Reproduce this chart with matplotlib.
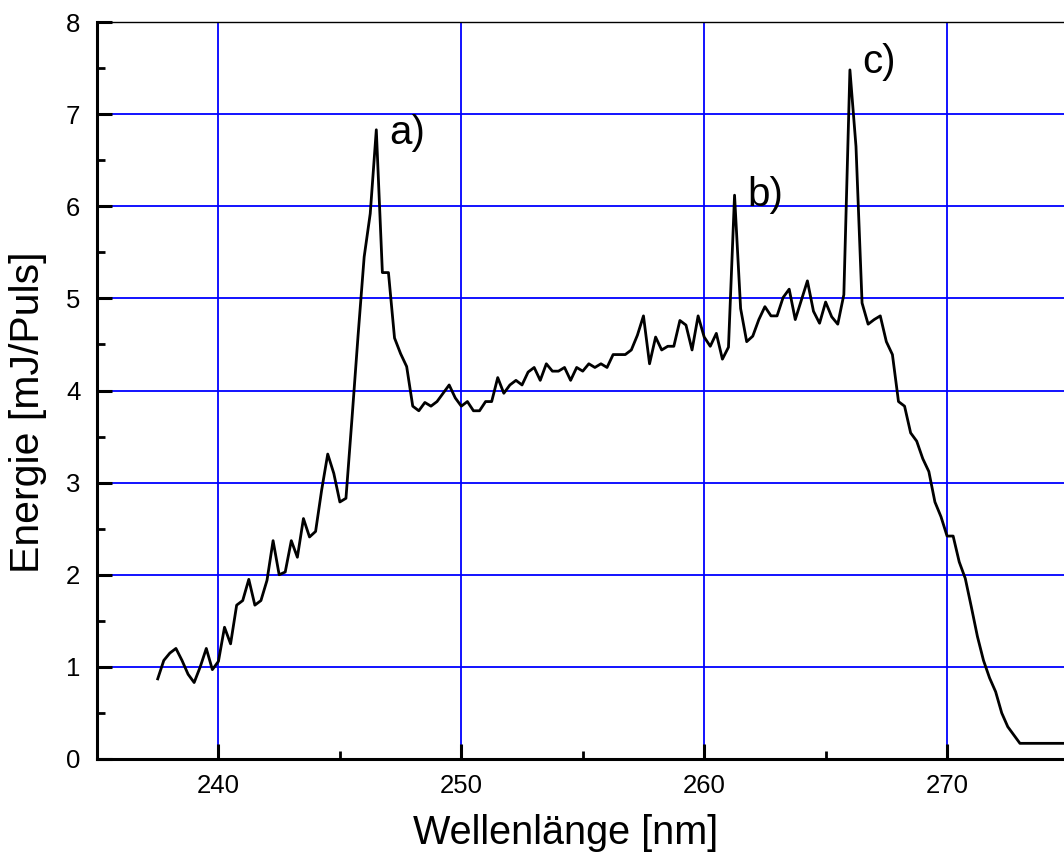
import numpy as np
import matplotlib
matplotlib.use("Agg")
import matplotlib.pyplot as plt
from matplotlib.ticker import MultipleLocator

plt.rcParams['font.family'] = ['Liberation Sans', 'DejaVu Sans']

# Wavelength grid (nm), 0.25 nm steps
wavelength_start = 237.5
wavelength_step = 0.25

# Pulse energy (mJ/Puls)
energy = [
    0.87, 1.07, 1.15, 1.20, 1.07, 0.92, 0.83, 1.00, 1.20, 0.97,
    1.06, 1.43, 1.25, 1.67, 1.72, 1.95, 1.67, 1.72, 1.94, 2.37,
    2.00, 2.03, 2.37, 2.19, 2.61, 2.41, 2.47, 2.92, 3.31, 3.10,
    2.79, 2.83, 3.70, 4.60, 5.45, 5.92, 6.83, 5.28, 5.28, 4.57,
    4.40, 4.26, 3.83, 3.78, 3.87, 3.83, 3.88, 3.97, 4.06, 3.92,
    3.83, 3.88, 3.78, 3.78, 3.88, 3.88, 4.14, 3.97, 4.06, 4.11,
    4.06, 4.20, 4.25, 4.11, 4.29, 4.21, 4.21, 4.25, 4.11, 4.25,
    4.21, 4.29, 4.25, 4.29, 4.25, 4.39, 4.39, 4.39, 4.44, 4.60,
    4.81, 4.29, 4.58, 4.44, 4.48, 4.48, 4.76, 4.71, 4.44, 4.81,
    4.58, 4.48, 4.62, 4.34, 4.47, 6.12, 4.89, 4.53, 4.59, 4.77,
    4.91, 4.81, 4.81, 5.01, 5.10, 4.77, 4.98, 5.19, 4.86, 4.73,
    4.96, 4.80, 4.72, 5.04, 7.48, 6.65, 4.95, 4.72, 4.77, 4.81,
    4.53, 4.39, 3.88, 3.83, 3.54, 3.45, 3.26, 3.12, 2.79, 2.63,
    2.42, 2.42, 2.14, 1.96, 1.65, 1.33, 1.07, 0.88, 0.73, 0.50,
    0.35, 0.26, 0.17, 0.17, 0.17, 0.17, 0.17, 0.17, 0.17, 0.17,
    0.17,
]
wavelength = wavelength_start + wavelength_step * np.arange(len(energy))

# Peak labels: (text, wavelength, energy of the peak)
peak_labels = ["a)", "b)", "c)"]
peak_wavelengths = [246.5, 261.25, 266.0]
peak_energies = [6.83, 6.12, 7.48]
peak_dy = [-2, 0, 6]

fig = plt.figure(figsize=(10.64, 8.61), dpi=100)
ax = fig.add_axes([97 / 1064, 102 / 861, 971.5 / 1064, 737 / 861])

ax.plot(wavelength, energy, color='black', lw=2.0, zorder=3)

for txt, wx, ey, dy in zip(peak_labels, peak_wavelengths, peak_energies, peak_dy):
    ax.annotate(txt, xy=(wx, ey), xytext=(9, dy), textcoords='offset points',
                fontsize=29, ha='left', va='center')

ax.set_xlim(235, 275)
ax.set_ylim(0, 8)
ax.xaxis.set_major_locator(MultipleLocator(10))
ax.xaxis.set_minor_locator(MultipleLocator(5))
ax.yaxis.set_major_locator(MultipleLocator(1))
ax.yaxis.set_minor_locator(MultipleLocator(0.5))

ax.grid(True, which='major', color='#0000ff', lw=1.3, zorder=1)
ax.set_axisbelow(True)

ax.tick_params(which='major', direction='in', length=11, width=2.2,
               labelsize=18.5, top=False, right=False)
ax.tick_params(axis='x', which='major', pad=11)
ax.tick_params(axis='y', which='major', pad=12)
ax.tick_params(which='minor', direction='in', length=6, width=2.0,
               top=False, right=False)

for side in ['left', 'bottom']:
    ax.spines[side].set_linewidth(2.2)
ax.spines['top'].set_linewidth(1.0)
ax.spines['right'].set_linewidth(1.0)

ax.set_xlabel('Wellenlänge [nm]', fontsize=28.5, va='center')
ax.xaxis.set_label_coords(0.482, -0.1)
ax.set_ylabel('Energie [mJ/Puls]', fontsize=29.5, va='center')
ax.yaxis.set_label_coords(-0.071, 0.471)

fig.savefig('out.png', dpi=100)
